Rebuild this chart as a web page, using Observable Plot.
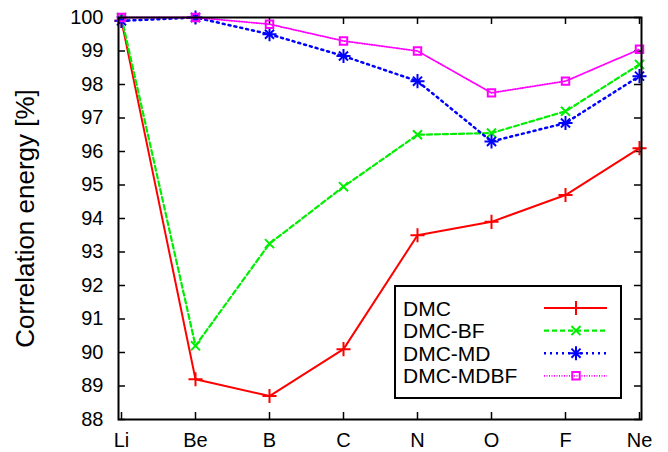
<!DOCTYPE html>
<html><head><meta charset="utf-8">
<script src="https://cdn.jsdelivr.net/npm/d3@7"></script>
<script src="https://cdn.jsdelivr.net/npm/@observablehq/plot@0.6"></script>
<style>
body{margin:0;background:#fff;}
#chart{position:relative;width:668px;height:452px;}
</style></head><body><div id="chart"></div>
<script>
const elements = ["Li","Be","B","C","N","O","F","Ne"];
const dmc     = [99.9, 89.2, 88.7, 90.1, 93.5, 93.9, 94.7, 96.1];
const dmcBF   = [100, 90.2, 93.25, 94.95, 96.5, 96.55, 97.2, 98.6];
const dmcMD   = [99.9, 100, 99.5, 98.85, 98.1, 96.3, 96.85, 98.25];
const dmcMDBF = [100, 100, 99.8, 99.3, 99.0, 97.75, 98.1, 99.05];
const yTicks = [88,89,90,91,92,93,94,95,96,97,98,99,100];
const seriesNames = ["DMC","DMC-BF","DMC-MD","DMC-MDBF"];
const seriesValues = [dmc, dmcBF, dmcMD, dmcMDBF];
const colors = ["#ff0000","#00ee00","#0000ff","#ff00ff"];
const dashes = [null, "5,3", "2,4", "1,1.5"];
const widths = [2, 2.2, 2.5, 1.8];
const symbols = [["plus"], ["times"], ["plus","times"], ["square"]];

const W = 668, H = 452, mL = 118, mR = 27, mT = 17, mB = 33;
const fW = W - mL - mR, fH = H - mT - mB, tk = 7;
const FONT = "'Liberation Sans', Arial, sans-serif";
const symR = {plus: 4.6, times: 4.2, square: 4.2};

const marks = [
  Plot.tickY(yTicks, {y: d => d, stroke: "black", strokeWidth: 1.5, insetRight: fW - tk}),
  Plot.tickY(yTicks, {y: d => d, stroke: "black", strokeWidth: 1.5, insetLeft: fW - tk}),
  Plot.tickX(elements, {x: d => d, stroke: "black", strokeWidth: 1.5, insetTop: fH - tk}),
  Plot.tickX(elements, {x: d => d, stroke: "black", strokeWidth: 1.5, insetBottom: fH - tk}),
  Plot.axisX({tickSize: 0, tickPadding: 13, label: null}),
  Plot.axisY({ticks: yTicks, tickSize: 0, tickPadding: 15, label: null}),
  Plot.text([0], {frameAnchor: "left", textAnchor: "middle", text: () => "Correlation energy [%]", rotate: -90, dx: -93, fontSize: 26})
];
seriesValues.forEach((vals, s) => {
  marks.push(Plot.line(elements, {x: d => d, y: (d, i) => vals[i], stroke: colors[s], strokeWidth: widths[s], strokeDasharray: dashes[s]}));
  symbols[s].forEach(sym => {
    marks.push(Plot.dot(elements, {x: d => d, y: (d, i) => vals[i], symbol: sym, r: symR[sym], stroke: colors[s], strokeWidth: 2, fill: "none"}));
  });
});
marks.push(Plot.frame({stroke: "black", strokeWidth: 2}));

const chart = Plot.plot({
  width: W, height: H,
  marginLeft: mL, marginRight: mR, marginTop: mT, marginBottom: mB,
  style: {fontFamily: FONT, fontSize: "20px", color: "black", background: "white", overflow: "visible"},
  x: {type: "point", domain: elements, padding: 0},
  y: {domain: [88, 100]},
  marks
});
document.getElementById("chart").appendChild(chart);

// legend inside plot
const svg = d3.select(chart);
const lg = svg.append("g").attr("transform", "translate(395,286)");
lg.append("rect").attr("width", 226).attr("height", 112).attr("fill", "white").attr("stroke", "black").attr("stroke-width", 2);
const symMap = {plus: d3.symbolPlus, times: d3.symbolTimes, square: d3.symbolSquare};
seriesNames.forEach((name, s) => {
  const cy = 22 + s * 22.6;
  lg.append("text").attr("x", 8).attr("y", cy + 7.5).attr("font-size", 21).attr("fill", "black")
    .attr("text-anchor", "start").style("font-family", FONT).text(name);
  lg.append("line").attr("x1", 149).attr("x2", 212).attr("y1", cy).attr("y2", cy)
    .attr("stroke", colors[s]).attr("stroke-width", widths[s]).attr("stroke-dasharray", dashes[s]);
  symbols[s].forEach(sy => {
    const r = symR[sy];
    lg.append("path").attr("transform", `translate(181,${cy})`)
      .attr("d", d3.symbol(symMap[sy], Math.PI * r * r)())
      .attr("fill", "none").attr("stroke", colors[s]).attr("stroke-width", 2);
  });
});
</script></body></html>
